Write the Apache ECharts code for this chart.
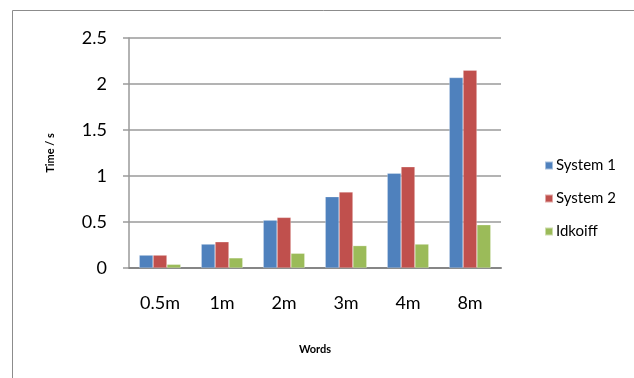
<!DOCTYPE html>
<html><head><meta charset="utf-8">
<script src="https://cdn.jsdelivr.net/npm/echarts@6/dist/echarts.min.js"></script>
<style>html,body{margin:0;padding:0;background:#fff}#c{width:634px;height:378px}</style>
</head><body><div id="c"></div>
<script>
const categories = ['0.5m', '1m', '2m', '3m', '4m', '8m'];
const system1 = [0.14, 0.26, 0.52, 0.775, 1.03, 2.07];
const system2 = [0.14, 0.285, 0.55, 0.826, 1.10, 2.15];
const idkoiff = [0.04, 0.11, 0.16, 0.243, 0.26, 0.47];
const yTicks = [0, 0.5, 1, 1.5, 2, 2.5];

const font = 'Lato, "Open Sans", sans-serif';
const chart = echarts.init(document.getElementById('c'));
chart.setOption({
  animation: false,
  textStyle: { fontFamily: font },
  graphic: [
    { type: 'line', shape: { x1: 12.5, y1: 10.5, x2: 634, y2: 10.5 }, style: { stroke: '#8c8c8c', lineWidth: 1 } },
    { type: 'line', shape: { x1: 12.5, y1: 10.5, x2: 12.5, y2: 378 }, style: { stroke: '#8c8c8c', lineWidth: 1 } }
  ],
  grid: { left: 129, right: 133, top: 38, bottom: 110 },
  legend: {
    orient: 'vertical', left: 539, top: 153, itemGap: 18,
    itemWidth: 8, itemHeight: 8, icon: 'rect',
    textStyle: { fontSize: 15, color: '#000', fontFamily: font, padding: [0, 0, 0, -2] },
    data: ['System 1', 'System 2', 'Idkoiff']
  },
  xAxis: {
    type: 'category', data: categories,
    name: 'Words', nameLocation: 'middle', nameGap: 76,
    nameTextStyle: { fontSize: 11, fontWeight: 'bold', color: '#000' },
    axisLine: { lineStyle: { color: '#868686', width: 2 } },
    axisTick: { show: false },
    axisLabel: { fontSize: 18, color: '#000', margin: 26 }
  },
  yAxis: {
    type: 'value', min: 0, max: 2.5, interval: 0.5,
    name: 'Time / s', nameLocation: 'middle', nameGap: 73,
    nameTextStyle: { fontSize: 11, fontWeight: 'bold', color: '#000' },
    axisLine: { show: true, lineStyle: { color: '#9a9a9a', width: 1.5 } },
    axisTick: { show: true, length: 6, lineStyle: { color: '#9a9a9a', width: 1.5 } },
    splitLine: { lineStyle: { color: '#9a9a9a', width: 1.5 } },
    axisLabel: { fontSize: 18, color: '#000', margin: 22,
      formatter: v => yTicks.includes(v) ? String(v) : '' }
  },
  series: [
    { name: 'System 1', type: 'bar', data: system1, barGap: '0%', barCategoryGap: '33%',
      itemStyle: { color: '#4f81bd', borderColor: 'rgba(255,255,255,0.5)', borderWidth: 0.5 } },
    { name: 'System 2', type: 'bar', data: system2,
      itemStyle: { color: '#c0504d', borderColor: 'rgba(255,255,255,0.5)', borderWidth: 0.5 } },
    { name: 'Idkoiff', type: 'bar', data: idkoiff,
      itemStyle: { color: '#9bbb59', borderColor: 'rgba(255,255,255,0.5)', borderWidth: 0.5 } }
  ]
});
</script></body></html>
